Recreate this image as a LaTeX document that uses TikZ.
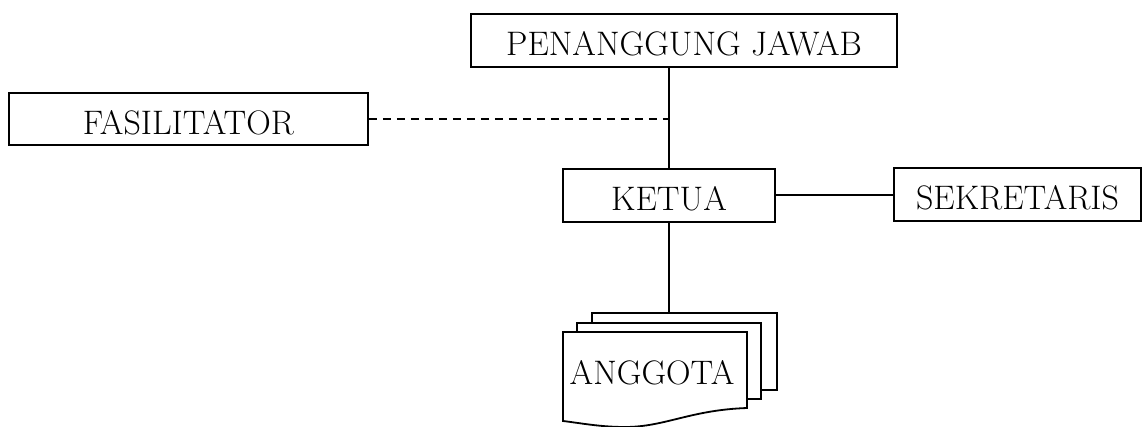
\documentclass[tikz,border=0pt]{standalone}
\usepackage{fontspec}
\setmainfont{Latin Modern Roman}
\begin{document}
\begin{tikzpicture}[x=1pt,y=-1pt,line width=1.8pt,
  box/.style={draw,rectangle,inner sep=0pt,text height=31pt,text depth=0pt,font=\fontsize{34}{40}\selectfont},
  lbl/.style={inner sep=0pt,font=\fontsize{34}{40}\selectfont},
  dashline/.style={dash pattern=on 8pt off 6pt}]
\useasboundingbox (0,0) rectangle (1147,427);
\node[box,minimum width=426pt,minimum height=53pt] (pj) at (684,40.5) {PENANGGUNG JAWAB};
\node[box,minimum width=359pt,minimum height=52pt] (fas) at (188.5,119) {FASILITATOR};
\node[box,minimum width=212pt,minimum height=53pt] (ketua) at (669,195.5) {KETUA};
\node[box,minimum width=247pt,minimum height=53pt] (sek) at (1017.5,194.5) {SEKRETARIS};
% member stack
\draw[fill=white] (592,313) rectangle (777,390);
\draw[fill=white] (577,323) rectangle (761,399);
\draw[fill=white] (563,332) -- (747,332) -- (747,408)
  .. controls (690,410) and (665,427) .. (625,427)
  .. controls (600,427) and (580,423) .. (563,421) -- cycle;
\node[lbl] (ang) at (652,372.5) {ANGGOTA};
\coordinate (agtop) at (669,313);
\coordinate (junc) at (669,119);
% connectors
\draw (ketua.north |- pj.south) -- (ketua.north);
\draw[dashline] (fas.east) -- (junc);
\draw ([yshift=0.5pt]ketua.east) -- ([yshift=0.5pt]ketua.east -| sek.west);
\draw (ketua.south) -- (agtop);
\end{tikzpicture}
\end{document}
